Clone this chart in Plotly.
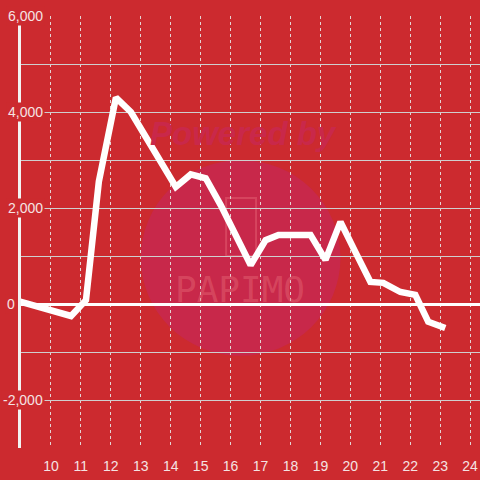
import plotly.graph_objects as go

# hours (x) and values (y)
hours = [8.67, 9.17, 9.67, 10.17, 10.67, 11.17, 11.6, 12.17, 12.67, 13.17, 13.67,
         14.17, 14.67, 15.17, 15.67, 16.17, 16.67, 17.17, 17.6, 18.17, 18.67,
         19.17, 19.67, 20.17, 20.67, 21.1, 21.67, 22.17, 22.6, 23.17]
values = [100, 20, -60, -150, -250, 80, 2550, 4300, 4000, 3480, 2980,
          2440, 2700, 2620, 2060, 1440, 810, 1330, 1440, 1440, 1440,
          920, 1710, 1080, 460, 440, 250, 190, -370, -500]

y_label_ticks = [6000, 4000, 2000, 0, -2000]
x_ticks = list(range(10, 25))

BG = "#cc2a2f"
LABEL = "#f5e3e3"

fig = go.Figure()

# watermark
fig.add_shape(type="circle", xref="x", yref="y", x0=13.0, x1=19.67, y0=-1080, y1=3000,
              fillcolor="#c8284a", line_width=0, layer="below")
fig.add_shape(type="rect", xref="x", yref="y", x0=15.85, x1=16.85, y0=1000, y1=2210,
              line=dict(color="rgba(235,110,125,0.4)", width=2), fillcolor="rgba(0,0,0,0)", layer="below")
fig.add_annotation(text="<b><i>Powered by</i></b>", xref="x", yref="y", x=16.43, y=3560, showarrow=False,
                   font=dict(family="Liberation Sans", size=33, color="#c9284a"))
fig.add_annotation(text="PAPIMO", xref="x", yref="y", x=16.3, y=310, showarrow=False,
                   font=dict(family="DejaVu Sans Mono", size=36, color="rgba(235,115,125,0.4)"))

fig.add_trace(go.Scatter(x=hours, y=values, mode="lines",
                         line=dict(color="white", width=6.5), hoverinfo="skip"))

# y labels sit on a red box that cuts the axis line
for v in y_label_ticks:
    fig.add_annotation(text=f"{v:,}", xref="paper", yref="y", x=0, y=v, xanchor="right",
                       xshift=24 if v != 0 else -4, showarrow=False, bgcolor=BG, borderpad=1,
                       font=dict(family="Liberation Sans", size=14, color=LABEL))

fig.update_layout(
    width=480, height=480,
    paper_bgcolor=BG, plot_bgcolor=BG,
    margin=dict(l=21, r=0, t=16, b=32),
    showlegend=False,
    xaxis=dict(range=[9, 24.33], tickvals=x_ticks, showgrid=True, automargin=False,
               gridcolor="#e4d4d4", griddash="dot", gridwidth=1,
               zeroline=False, showline=False,
               ticks="outside", ticklen=5, tickcolor="rgba(0,0,0,0)",
               tickfont=dict(family="Liberation Sans", size=14, color=LABEL)),
    yaxis=dict(range=[-3000, 6000], dtick=1000, showticklabels=False, automargin=False,
               gridcolor="#cfcfcf", gridwidth=1,
               zeroline=True, zerolinecolor="white", zerolinewidth=3,
               showline=True, linecolor="#f3f3f3", linewidth=3),
)

fig.write_html("out.html", config={"displayModeBar": False},
               post_script="document.body.style.margin='0';document.body.style.overflow='hidden';")
